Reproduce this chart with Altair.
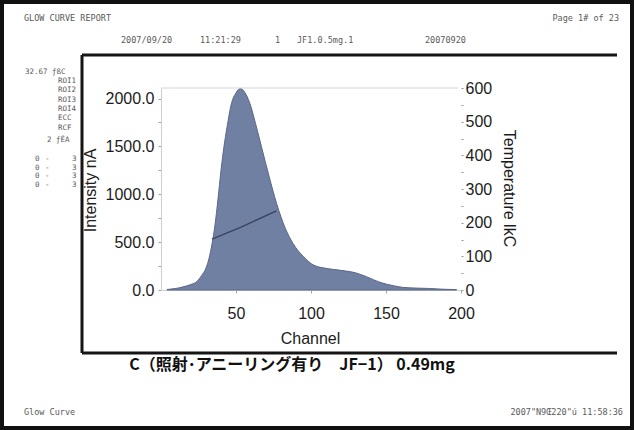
import altair as alt
import pandas as pd

# Glow curve: intensity (nA) per channel
channel = [4, 8, 12, 16, 20, 24, 27, 30, 32, 34, 36, 38, 40, 42, 44, 47, 50, 53, 56, 59,
           63, 67, 72, 77, 83, 88, 95, 102, 110, 120, 130, 137, 146, 155, 161, 170, 179, 188, 197]
intensity = [5, 12, 22, 38, 58, 90, 150, 230, 330, 480, 680, 950, 1250, 1500, 1700, 1950, 2060, 2105, 2060, 1960,
             1740, 1495, 1190, 907, 640, 487, 348, 258, 226, 205, 178, 139, 80, 45, 28, 20, 16, 8, 4]

# Heating profile segment (temperature, right axis)
temp_channel = [34, 53, 77]
temperature = [151, 186, 235]

# Report header / side panel / footer texts
report_title = "GLOW CURVE REPORT"
page_label = "Page 1# of 23"
run_fields = ["2007/09/20", "11:21:29", "1", "JF1.0.5mg.1", "20070920"]
side_labels = ["ROI1", "ROI2", "ROI3", "ROI4", "ECC", "RCF"]
roi_low = ["0", "0", "0", "0"]
roi_high = ["3", "3", "3", "3"]
caption = "C（照射･アニーリング有り　JF−1） 0.49mg"
footer_left = "Glow Curve"
footer_right = "2007\"N9Œ220\"ú 11:58:36"

# plot-area origin on the page and its size
X0, Y0, W, H = 161, 88, 300, 202
MONO = "DejaVu Sans Mono"
SANS = "Liberation Sans"
INK = "#1c1c1c"

curve = pd.DataFrame({"channel": channel, "intensity": intensity})
temps = pd.DataFrame({"channel": temp_channel, "temperature": temperature})
ONE = alt.Data(values=[{"k": 0}])

x_scale = alt.Scale(domain=[0, 200], nice=False)
x_axis = alt.Axis(values=[50, 100, 150, 200], title="Channel",
                  titleX=310 - X0, titleY=338 - Y0 - H, titleFont=SANS,
                  titleFontSize=16, titleFontWeight="normal", titleColor=INK,
                  titleBaseline="middle", titleAlign="center",
                  labelFont=SANS, labelFontSize=16, labelColor=INK, labelPadding=12,
                  labelFlush=False, labelOverlap=False,
                  tickSize=3, tickColor="#9aa2b4", domainColor="#c9ced9", grid=False)

area = alt.Chart(curve).mark_area(
    color="#7080a2", stroke="#5b6786", strokeWidth=1, interpolate="monotone"
).encode(
    x=alt.X("channel:Q", scale=x_scale, axis=x_axis),
    y=alt.Y("intensity:Q", scale=alt.Scale(domain=[0, 2110], nice=False),
            axis=alt.Axis(values=[0, 250, 500, 750, 1000, 1250, 1500, 1750, 2000],
                          labelExpr="datum.value % 500 == 0 ? format(datum.value, '.1f') : ''",
                          title="Intensity nA", titleX=90 - X0, titleY=190 - Y0,
                          titleAngle=270, titleAlign="center", titleBaseline="middle",
                          titleFont=SANS, titleFontSize=16, titleFontWeight="normal", titleColor=INK,
                          labelFont=SANS, labelFontSize=16, labelColor=INK, labelPadding=4,
                          labelFlush=False,
                          tickSize=3, tickColor="#9aa2b4", domainColor="#c9ced9", grid=False)),
)

temp_line = alt.Chart(temps).mark_line(color="#3a4462", strokeWidth=1.5).encode(
    x=alt.X("channel:Q", scale=x_scale, axis=x_axis),
    y=alt.Y("temperature:Q", scale=alt.Scale(domain=[0, 600], nice=False),
            axis=alt.Axis(orient="right", values=list(range(0, 601, 50)),
                          labelExpr="datum.value % 100 == 0 ? datum.label : ''",
                          title="Temperature lkC", titleX=508 - X0 - W, titleY=188 - Y0,
                          titleAngle=90, titleAlign="center", titleBaseline="middle",
                          titleFont=SANS, titleFontSize=16, titleFontWeight="normal", titleColor=INK,
                          labelFont=SANS, labelFontSize=16, labelColor=INK, labelPadding=2,
                          labelFlush=False,
                          tickSize=2, tickColor="#8d95a8", domain=False, grid=False)),
)


def text_at(txt, x, y, size=8, font=MONO, color="#5a5a5a", align="left", weight="normal"):
    return alt.Chart(ONE).mark_text(
        text=txt, font=font, fontSize=size, color=color, align=align,
        baseline="middle", fontWeight=weight
    ).encode(x=alt.value(x - X0), y=alt.value(y - Y0))


def rule_at(x1, y1, x2, y2, color="#151515", width=3):
    return alt.Chart(ONE).mark_rule(color=color, strokeWidth=width).encode(
        x=alt.value(x1 - X0), x2=alt.value(x2 - X0),
        y=alt.value(y1 - Y0), y2=alt.value(y2 - Y0))


texts = [
    text_at(report_title, 24, 18, size=8.5),
    text_at(page_label, 619, 18, size=8.5, align="right"),
    text_at(run_fields[0], 121, 40, size=8.5),
    text_at(run_fields[1], 200, 40, size=8.5),
    text_at(run_fields[2], 275, 40, size=8.5),
    text_at(run_fields[3], 297, 40, size=8.5),
    text_at(run_fields[4], 425, 40, size=8.5),
    text_at("32.67 ƒßC", 25, 72, size=7.5),
    text_at("2 ƒÉA", 47, 140, size=7.5),
    text_at(footer_left, 24, 412, size=8.5),
    text_at(footer_right, 623, 412, size=8.5, align="right"),
    text_at(caption, 292, 365, size=16, font="Noto Sans CJK JP", color="#111111", align="center",
            weight="bold"),
]
for i, s in enumerate(side_labels):
    texts.append(text_at(s, 58, 81 + i * 9.3, size=7.5))
for i, (lo, hi) in enumerate(zip(roi_low, roi_high)):
    y = 159 + i * 8.7
    texts.append(text_at(lo, 35, y, size=7.5))
    texts.append(text_at("-", 45, y, size=7.5))
    texts.append(text_at(hi, 72, y, size=7.5))

frames = [
    # light border along the top of the plot area
    rule_at(X0, Y0, X0 + W - 3, Y0, color="#cfd4de", width=1),
    # picture box
    rule_at(82, 55, 617, 55),
    rule_at(82, 353, 617, 353),
    rule_at(82, 55, 82, 353),
    # page frame
    alt.Chart(ONE).mark_rect(fillOpacity=0, stroke="#111111", strokeWidth=4).encode(
        x=alt.value(2 - X0), x2=alt.value(632 - X0), y=alt.value(2 - Y0), y2=alt.value(428 - Y0)),
]

chart = alt.layer(area, temp_line, *texts, *frames).resolve_scale(y="independent").properties(
    width=W, height=H,
    autosize=alt.AutoSizeParams(type="none"),
    padding={"left": X0, "top": Y0, "right": 634 - X0 - W, "bottom": 430 - Y0 - H},
    background="white",
).configure_view(stroke=None)

chart.save("out.html", embed_options={"renderer": "svg", "actions": False})
